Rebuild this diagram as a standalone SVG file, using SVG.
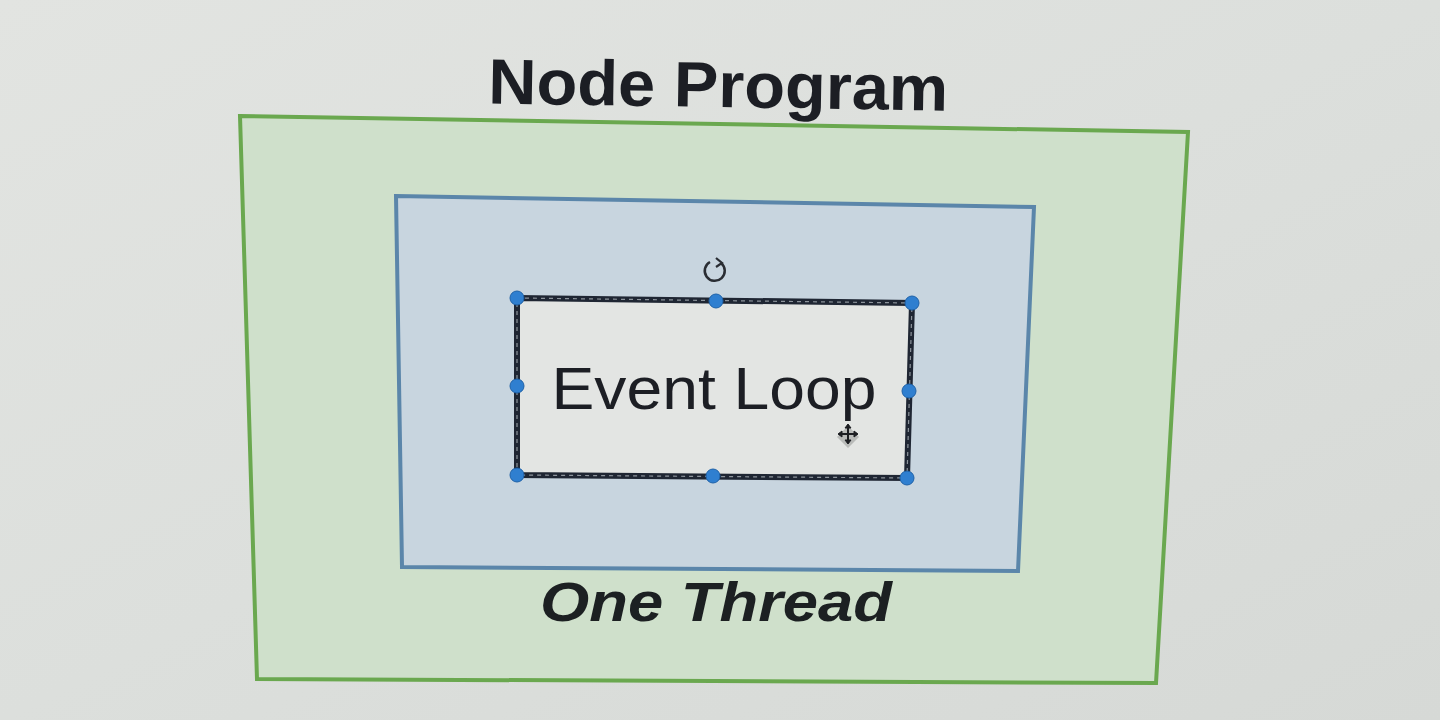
<svg xmlns="http://www.w3.org/2000/svg" width="1440" height="720" viewBox="0 0 1440 720">
  <defs>
    <linearGradient id="bg" x1="0" y1="0" x2="1" y2="1">
      <stop offset="0" stop-color="#e2e4e1"/>
      <stop offset="0.5" stop-color="#dcdfdc"/>
      <stop offset="1" stop-color="#d6d9d6"/>
    </linearGradient>
  </defs>
  <style>
    .outer { fill: #cfe0cb; stroke: #6aa84f; stroke-width: 4; }
    .inner { fill: #c8d5df; stroke: #5b86aa; stroke-width: 4; }
    .node { fill: #e3e5e3; }
    .sel { fill: none; stroke: #1f2633; stroke-width: 6; }
    .seldash { fill: none; stroke: #8d949c; stroke-width: 1.2; stroke-dasharray: 4 4; }
    .handle { fill: #2f7fd0; stroke: #1f62a8; stroke-width: 1; }
    .title { font-family: "Liberation Sans", Arial, sans-serif; font-weight: bold; fill: #1c1e24; }
    .label { font-family: "Liberation Sans", Arial, sans-serif; fill: #1c1e24; }
    .caption { font-family: "Liberation Sans", Arial, sans-serif; font-weight: bold; font-style: italic; fill: #1c2022; }
  </style>
  <rect x="0" y="0" width="1440" height="720" fill="url(#bg)"/>

  <g id="node-program">
    <polygon class="outer" points="240,116 1188,132 1156,683 257,679"/>
    <text class="title" x="718" y="107" font-size="64" text-anchor="middle" textLength="460" lengthAdjust="spacingAndGlyphs" transform="rotate(0.9 718 107)">Node Program</text>
  </g>

  <g id="one-thread">
    <polygon class="inner" points="396,196 1034,207 1018,571 402,567"/>
    <text class="caption" x="716" y="621" font-size="55" text-anchor="middle" textLength="352" lengthAdjust="spacingAndGlyphs">One Thread</text>
  </g>

  <g id="event-loop">
    <polygon class="node" points="517,298 912,303 907,478 517,475"/>
    <polygon class="sel" points="517,298 912,303 907,478 517,475"/>
    <polygon class="seldash" points="517,298 912,303 907,478 517,475"/>
    <text class="label" x="714" y="409" font-size="59" text-anchor="middle" textLength="325" lengthAdjust="spacingAndGlyphs">Event Loop</text>
    <g id="handles">
      <circle class="handle" cx="517" cy="298" r="7"/>
      <circle class="handle" cx="716" cy="301" r="7"/>
      <circle class="handle" cx="912" cy="303" r="7"/>
      <circle class="handle" cx="517" cy="386" r="7"/>
      <circle class="handle" cx="909" cy="391" r="7"/>
      <circle class="handle" cx="517" cy="475" r="7"/>
      <circle class="handle" cx="713" cy="476" r="7"/>
      <circle class="handle" cx="907" cy="478" r="7"/>
    </g>
    <g id="rotate-icon" fill="none" stroke="#2a2d33" stroke-width="2.5">
      <path d="M 721 263 A 10 10 0 1 1 710 262"/>
      <path d="M 716 258 L 722 263 L 716 267" stroke-width="2.2"/>
    </g>
    <g id="move-cursor">
      <path d="M 848 426 L 859 437 L 848 448 L 837 437 Z" fill="#9c9e9c" opacity="0.6"/>
      <g stroke="#1c1e22" stroke-width="2" fill="#1c1e22">
        <line x1="848" y1="425" x2="848" y2="443"/>
        <line x1="839" y1="434" x2="857" y2="434"/>
        <path d="M 845 428 L 848 424 L 851 428 Z" stroke-width="1"/>
        <path d="M 845 440 L 848 444 L 851 440 Z" stroke-width="1"/>
        <path d="M 842 431 L 838 434 L 842 437 Z" stroke-width="1"/>
        <path d="M 854 431 L 858 434 L 854 437 Z" stroke-width="1"/>
      </g>
    </g>
  </g>
</svg>
